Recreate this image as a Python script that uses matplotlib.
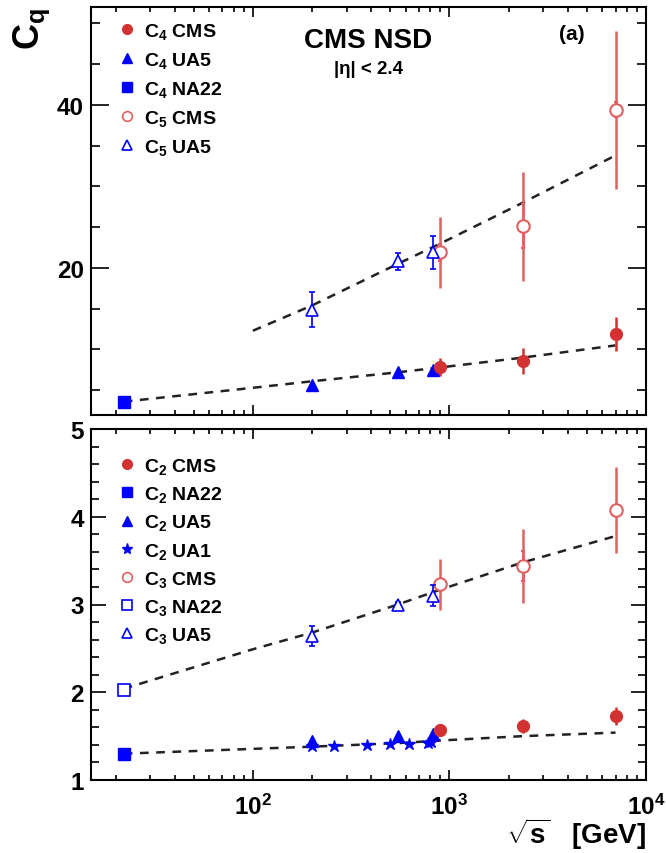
import matplotlib
matplotlib.use("Agg")
import matplotlib.pyplot as plt
from matplotlib.lines import Line2D
from matplotlib.ticker import MultipleLocator, LogLocator, NullFormatter

plt.rcParams["font.family"] = ["Liberation Sans", "DejaVu Sans"]
plt.rcParams["font.weight"] = "bold"
plt.rcParams["axes.labelweight"] = "bold"
plt.rcParams["mathtext.fontset"] = "custom"
plt.rcParams["mathtext.rm"] = "Liberation Sans:bold"
plt.rcParams["mathtext.it"] = "Liberation Sans:bold"
plt.rcParams["mathtext.bf"] = "Liberation Sans:bold"

RED = "#d23232"
LRED = "#e06060"
BLUE = "#0000ff"

# ---- panel (a): C4 and C5 ----
c4_cms_x = [900, 2360, 7000]
c4_cms_y = [7.8, 8.6, 11.9]
c4_cms_err = [1.1, 1.6, 2.1]
c4_ua5_x = [200, 546, 820]
c4_ua5_y = [5.6, 7.2, 7.5]
c4_na22_x = [22]
c4_na22_y = [3.5]
c5_cms_x = [900, 2360, 7000]
c5_cms_y = [21.9, 25.1, 39.4]
c5_cms_err = [4.4, 6.7, 9.7]
c5_cms_stat = [1.0, 2.7, 0.9]
c5_ua5_x = [200, 546, 820]
c5_ua5_y = [14.9, 20.8, 21.9]
c5_ua5_err = [2.2, 1.0, 2.0]
fit_c4_x = [22, 100, 200, 546, 900, 2360, 7000]
fit_c4_y = [3.6, 5.3, 6.1, 7.2, 7.8, 9.0, 10.5]
fit_c5_x = [100, 200, 546, 900, 2360, 7000]
fit_c5_y = [12.3, 15.4, 20.5, 23.0, 28.0, 33.8]

# ---- lower panel: C2 and C3 ----
c2_cms_x = [900, 2360, 7000]
c2_cms_y = [1.57, 1.62, 1.73]
c2_cms_err = [0.03, 0.08, 0.10]
c2_na22_x = [22]
c2_na22_y = [1.30]
c2_ua5_x = [200, 546, 820]
c2_ua5_y = [1.44, 1.50, 1.52]
c2_ua1_x = [200, 260, 380, 500, 620, 780, 810]
c2_ua1_y = [1.39, 1.39, 1.40, 1.41, 1.41, 1.42, 1.43]
c3_cms_x = [900, 2360, 7000]
c3_cms_y = [3.23, 3.44, 4.08]
c3_cms_err = [0.29, 0.42, 0.49]
c3_cms_stat = [0.03, 0.17, 0.04]
c3_na22_x = [22]
c3_na22_y = [2.03]
c3_ua5_x = [200, 546, 820]
c3_ua5_y = [2.64, 3.00, 3.10]
c3_ua5_err = [0.11, 0.03, 0.12]
fit_c2_x = [22, 200, 546, 900, 2360, 7000]
fit_c2_y = [1.30, 1.38, 1.42, 1.45, 1.50, 1.54]
fit_c3_x = [22, 100, 200, 546, 900, 2360, 7000]
fit_c3_y = [2.04, 2.49, 2.68, 3.00, 3.17, 3.48, 3.78]

fig = plt.figure(figsize=(6.66, 8.54), dpi=100)
ax1 = fig.add_axes([91/666, 1-415.7/854, 555/666, 407.7/854])
ax2 = fig.add_axes([91/666, 1-781/854, 555/666, 351/854])

dash = (0, (3.5, 3))


def style(ax, ymaj, ymin, ylen):
    ax.set_xscale("log")
    ax.set_xlim(15, 1e4)
    ax.yaxis.set_major_locator(MultipleLocator(ymaj))
    ax.yaxis.set_minor_locator(MultipleLocator(ymin))
    ax.xaxis.set_major_locator(LogLocator(base=10))
    ax.xaxis.set_minor_locator(LogLocator(base=10, subs=range(2, 10)))
    ax.xaxis.set_minor_formatter(NullFormatter())
    ax.tick_params(which="both", direction="in", top=True, right=True, width=1.2)
    ax.tick_params(axis="y", which="major", length=ylen, labelsize=17.5, pad=5)
    ax.tick_params(axis="y", which="minor", length=ylen/2)
    ax.tick_params(axis="x", which="major", length=7, labelsize=17.5, pad=10)
    ax.tick_params(axis="x", which="minor", length=3.5)
    for s in ax.spines.values():
        s.set_linewidth(1.5)


def mk(marker, filled, color, ms=7):
    if filled:
        return Line2D([], [], ls="none", marker=marker, color=color, ms=ms)
    return Line2D([], [], ls="none", marker=marker, mfc="white", mec=color,
                  mew=1.2, ms=ms)


style(ax1, 20, 5, 13)
style(ax2, 1, 0.2, 11)
ax1.set_ylim(2, 52)
ax2.set_ylim(1, 5)
ax1.set_xticklabels([])
ax2.set_xticks([1e2, 1e3, 1e4])
ax2.set_xticklabels(["10$^{2}$", "10$^{3}$", "10$^{4}$"])

# panel (a)
ax1.plot(fit_c4_x, fit_c4_y, color="#222222", lw=1.8, ls=dash, zorder=2)
ax1.plot(fit_c5_x, fit_c5_y, color="#222222", lw=1.8, ls=dash, zorder=2)
ax1.errorbar(c4_cms_x, c4_cms_y, yerr=c4_cms_err, fmt="o", color=RED, ms=8.5,
             elinewidth=1.8, capsize=0, zorder=4)
ax1.plot(c4_ua5_x, c4_ua5_y, "^", color=BLUE, ms=8.5, zorder=4)
ax1.plot(c4_na22_x, c4_na22_y, "s", color=BLUE, ms=8.5, zorder=4)
ax1.errorbar(c5_cms_x, c5_cms_y, yerr=c5_cms_err, fmt="none", ecolor=LRED,
             elinewidth=1.8, capsize=0, zorder=3)
ax1.errorbar(c5_cms_x, c5_cms_y, yerr=c5_cms_stat, fmt="none", ecolor=LRED,
             elinewidth=1.8, capsize=1.5, capthick=1.5, zorder=3)
ax1.plot(c5_cms_x, c5_cms_y, "o", mfc="white", mec=LRED, mew=1.5, ms=9, zorder=4)
ax1.errorbar(c5_ua5_x, c5_ua5_y, yerr=c5_ua5_err, fmt="^", mfc="white", mec=BLUE,
             ecolor=BLUE, mew=1.2, ms=9, elinewidth=1.2, capsize=2, capthick=1.2,
             zorder=4)

leg1_handles = [mk("o", True, RED), mk("^", True, BLUE), mk("s", True, BLUE, 6.5),
                mk("o", False, LRED), mk("^", False, BLUE)]
leg1_labels = ["C$_4$ CMS", "C$_4$ UA5", "C$_4$ NA22", "C$_5$ CMS", "C$_5$ UA5"]

# lower panel
ax2.plot(fit_c2_x, fit_c2_y, color="#222222", lw=1.8, ls=dash, zorder=2)
ax2.plot(fit_c3_x, fit_c3_y, color="#222222", lw=1.8, ls=dash, zorder=2)
ax2.errorbar(c2_cms_x, c2_cms_y, yerr=c2_cms_err, fmt="o", color=RED, ms=8.5,
             elinewidth=1.8, capsize=0, zorder=4)
ax2.plot(c2_na22_x, c2_na22_y, "s", color=BLUE, ms=8.5, zorder=4)
ax2.plot(c2_ua5_x, c2_ua5_y, "^", color=BLUE, ms=8.5, zorder=4)
ax2.plot(c2_ua1_x, c2_ua1_y, "*", color=BLUE, ms=9, zorder=4)
ax2.errorbar(c3_cms_x, c3_cms_y, yerr=c3_cms_err, fmt="none", ecolor=LRED,
             elinewidth=1.8, capsize=0, zorder=3)
ax2.errorbar(c3_cms_x, c3_cms_y, yerr=c3_cms_stat, fmt="none", ecolor=LRED,
             elinewidth=1.8, capsize=1.5, capthick=1.5, zorder=3)
ax2.plot(c3_cms_x, c3_cms_y, "o", mfc="white", mec=LRED, mew=1.5, ms=9, zorder=4)
ax2.plot(c3_na22_x, c3_na22_y, "s", mfc="white", mec=BLUE, mew=1.2, ms=9, zorder=4)
ax2.errorbar(c3_ua5_x, c3_ua5_y, yerr=c3_ua5_err, fmt="^", mfc="white", mec=BLUE,
             ecolor=BLUE, mew=1.2, ms=9, elinewidth=1.2, capsize=2, capthick=1.2,
             zorder=4)

leg2_handles = [mk("o", True, RED), mk("s", True, BLUE, 6.5), mk("^", True, BLUE),
                mk("*", True, BLUE, 8), mk("o", False, LRED),
                mk("s", False, BLUE, 7), mk("^", False, BLUE)]
leg2_labels = ["C$_2$ CMS", "C$_2$ NA22", "C$_2$ UA5", "C$_2$ UA1",
               "C$_3$ CMS", "C$_3$ NA22", "C$_3$ UA5"]

ax1.legend(leg1_handles, leg1_labels, loc="upper left", bbox_to_anchor=(0.035, 0.985),
           frameon=False, fontsize=14, handlelength=0.9, handletextpad=0.45,
           labelspacing=0.46, borderaxespad=0.0)
ax2.legend(leg2_handles, leg2_labels, loc="upper left", bbox_to_anchor=(0.035, 0.945),
           frameon=False, fontsize=14, handlelength=0.9, handletextpad=0.45,
           labelspacing=0.42, borderaxespad=0.0)

ax1.text(0.5, 0.92, "CMS NSD", transform=ax1.transAxes, ha="center", va="center",
         fontsize=20, fontweight="bold")
ax1.text(0.5, 0.848, "|η| < 2.4", transform=ax1.transAxes, ha="center", va="center",
         fontsize=13.5, fontweight="bold")
ax1.text(0.867, 0.934, "(a)", transform=ax1.transAxes, ha="center", va="center",
         fontsize=15, fontweight="bold")

ax1.set_ylabel("C$_q$", fontsize=26, loc="top", labelpad=4)
ax2.set_xlabel(r"$\sqrt{s}$   [GeV]", fontsize=20, loc="right", labelpad=-3)

fig.savefig("out.png", dpi=100)
